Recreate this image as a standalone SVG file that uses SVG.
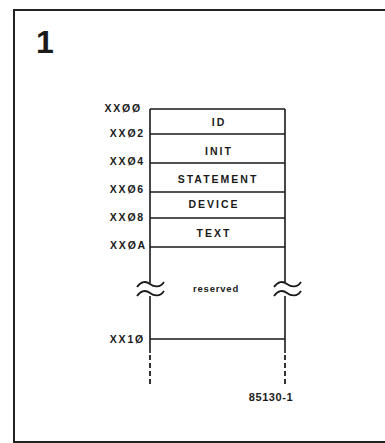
<svg xmlns="http://www.w3.org/2000/svg" width="385" height="443" viewBox="0 0 385 443">
<style>
.ln{stroke:#1a1a1a;stroke-width:1.6;fill:none}
.fr{stroke:#222;stroke-width:2;fill:none}
.cell{font-family:"Liberation Sans",Arial,sans-serif;font-weight:bold;font-size:10.5px;letter-spacing:2px;fill:#1a1a1a;text-anchor:middle}
.addr{font-family:"Liberation Sans",Arial,sans-serif;font-weight:bold;font-size:10.5px;letter-spacing:1.8px;fill:#1a1a1a;text-anchor:end}
.tl{stroke:#1a1a1a;stroke-width:1.8;fill:none}
.dash{stroke:#1a1a1a;stroke-width:1.8;stroke-dasharray:5 3;fill:none}
</style>
<rect width="385" height="443" fill="#fff"/>
<g id="frame">
<path class="fr" d="M385,10 H14 V442 H385"/>
<text x="36" y="53" font-family="'Liberation Sans',Arial,sans-serif" font-weight="bold" font-size="32" fill="#1a1a1a">1</text>
</g>
<g id="connectors">
<path class="ln" d="M150,109 V283 M150,296 V353 M285,109 V283 M285,296 V353"/>
<path class="ln" d="M150,109 H285 M150,134 H285 M150,163 H285 M150,192 H285 M150,218 H285 M150,247 H285 M150,339 H285"/>
<path class="dash" d="M150,355 V386 M285,355 V386"/>
<path class="tl" d="M137,287 C141,281 146,281 150,284 S160,288 164,282 M137,296 C141,290 146,290 150,293 S160,297 164,291"/>
<path class="tl" d="M274,287 C278,281 283,281 287,284 S297,288 301,282 M274,296 C278,290 283,290 287,293 S297,297 301,291"/>
</g>
<g id="cell-id"><text class="cell" x="219" y="126">ID</text></g>
<g id="cell-init"><text class="cell" x="219" y="155">INIT</text></g>
<g id="cell-statement"><text class="cell" x="218" y="183">STATEMENT</text></g>
<g id="cell-device"><text class="cell" x="214" y="208">DEVICE</text></g>
<g id="cell-text"><text class="cell" x="214" y="237">TEXT</text></g>
<g id="cell-reserved"><text class="cell" x="216" y="292" style="font-size:9.5px;letter-spacing:0.8px">reserved</text></g>
<g id="addr-00"><text class="addr" x="142" y="112">XXØØ</text></g>
<g id="addr-02"><text class="addr" x="145" y="137">XXØ2</text></g>
<g id="addr-04"><text class="addr" x="145" y="165">XXØ4</text></g>
<g id="addr-06"><text class="addr" x="145" y="193">XXØ6</text></g>
<g id="addr-08"><text class="addr" x="145" y="221">XXØ8</text></g>
<g id="addr-0a"><text class="addr" x="147" y="249">XXØA</text></g>
<g id="addr-10"><text class="addr" x="145" y="343">XX1Ø</text></g>
<g id="caption"><text x="271" y="401" text-anchor="middle" font-family="'Liberation Sans',Arial,sans-serif" font-weight="bold" font-size="11" letter-spacing="0.6" fill="#1a1a1a">85130-1</text></g>
</svg>
